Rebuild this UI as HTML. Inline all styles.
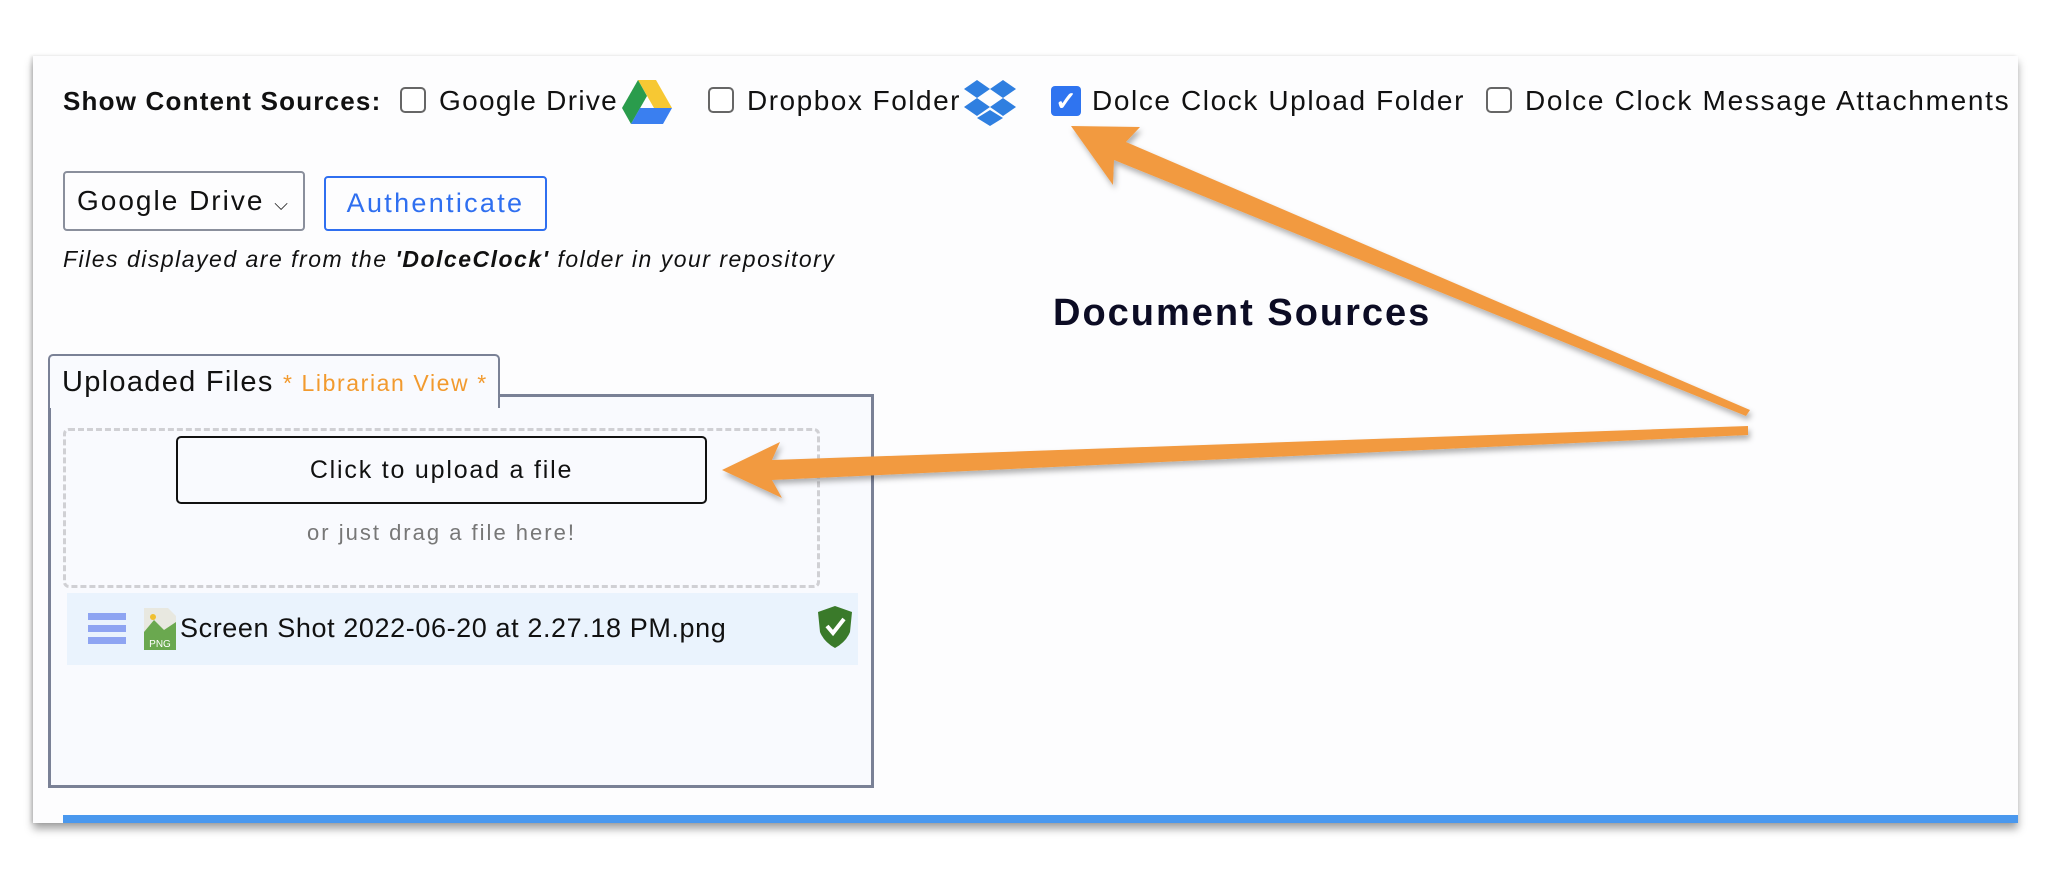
<!DOCTYPE html>
<html><head><meta charset="utf-8"><style>
body{margin:0;width:2048px;height:888px;background:#fff;position:relative;overflow:hidden;font-family:"Liberation Sans",sans-serif;color:#111;}
.a{position:absolute;white-space:nowrap}
.panel{position:absolute;left:33px;top:56px;width:1985px;height:767px;background:#fdfdfe;box-shadow:0 6px 8px rgba(0,0,0,.35),-2px 0 3px rgba(0,0,0,.12);}
.cb{position:absolute;width:26px;height:26px;border:2px solid #666;border-radius:5px;background:#fff;box-sizing:border-box}
.lbl{font-size:28px;top:85px;line-height:32px}
</style></head><body>
<div class="panel"></div>
<div class="a" style="left:63px;top:815px;width:1955px;height:8px;background:#4a98ee"></div>

<div class="a lbl" style="left:63px;font-weight:bold;font-size:26px;letter-spacing:1.2px">Show Content Sources:</div>
<div class="cb" style="left:400px;top:87px"></div>
<div class="a lbl" style="left:439px;letter-spacing:1.3px">Google Drive</div>
<svg class="a" style="left:622px;top:80px" width="50" height="46" viewBox="0 0 50 46"><polygon points="16,0 34,0 50,28 32,28" fill="#f7c833"/><polygon points="16,0 25,16 9,44 0,28" fill="#2a9c4c"/><polygon points="9,44 18,28 50,28 41,44" fill="#3a7ff0"/></svg>
<div class="cb" style="left:708px;top:87px"></div>
<div class="a lbl" style="left:747px;letter-spacing:1.5px">Dropbox Folder</div>
<svg class="a" style="left:964px;top:80px" width="52" height="46" viewBox="0 0 52 46"><g fill="#2f7fe0"><polygon points="13,0 26,9 13,18 0,9"/><polygon points="39,0 52,9 39,18 26,9"/><polygon points="13,18 26,27 13,36 0,27"/><polygon points="39,18 52,27 39,36 26,27"/><polygon points="26,30 39,38 26,46 13,38"/></g></svg>
<div class="a" style="left:1051px;top:86px;width:30px;height:30px;background:#2f74f0;border-radius:4px;color:#fff;font-size:26px;line-height:30px;text-align:center;font-weight:bold">✓</div>
<div class="a lbl" style="left:1092px;letter-spacing:1.6px">Dolce Clock Upload Folder</div>
<div class="cb" style="left:1486px;top:87px"></div>
<div class="a lbl" style="left:1525px;letter-spacing:1.7px">Dolce Clock Message Attachments</div>

<div class="a" style="left:63px;top:171px;width:242px;height:60px;border:2px solid #8a8f9c;border-radius:4px;box-sizing:border-box;font-size:28px;line-height:56px;padding-left:12px;letter-spacing:2px">Google Drive <span style="font-size:18px;letter-spacing:0">⌵</span></div>
<div class="a" style="left:324px;top:176px;width:223px;height:55px;border:2px solid #2f6ff0;border-radius:4px;box-sizing:border-box;font-size:27px;line-height:51px;text-align:center;color:#2f6ff0;letter-spacing:2.3px">Authenticate</div>
<div class="a" style="left:63px;top:246px;font-size:23px;font-style:italic;letter-spacing:1.5px">Files displayed are from the <b>'DolceClock'</b> folder in your repository</div>

<div class="a" style="left:1053px;top:292px;font-size:38px;font-weight:bold;color:#0c0c24;letter-spacing:2px">Document Sources</div>

<div class="a" style="left:48px;top:394px;width:826px;height:394px;border:3px solid #7a8196;box-sizing:border-box;background:#f9fafe"></div>
<div class="a" style="left:48px;top:354px;width:452px;height:54px;border:2px solid #7a8196;border-bottom:none;border-radius:5px 5px 0 0;box-sizing:border-box;background:#f9fafe;font-size:29px;line-height:52px;padding-left:12px;letter-spacing:1.3px">Uploaded Files <span style="color:#f29a2e;font-size:23px;letter-spacing:1.6px">* Librarian View *</span></div>
<div class="a" style="left:63px;top:428px;width:757px;height:160px;border:3px dashed #d0d0d4;border-radius:6px;box-sizing:border-box"></div>
<div class="a" style="left:176px;top:436px;width:531px;height:68px;border:2px solid #111;border-radius:5px;box-sizing:border-box;font-size:25px;line-height:64px;text-align:center;letter-spacing:1.8px">Click to upload a file</div>
<div class="a" style="left:63px;top:520px;width:757px;text-align:center;font-size:22px;color:#777;letter-spacing:2px">or just drag a file here!</div>
<div class="a" style="left:67px;top:593px;width:791px;height:72px;background:#eaf3fd"></div>
<div class="a" style="left:88px;top:613px;width:38px;height:7px;background:#8ea4f2;box-shadow:0 12px 0 #8ea4f2,0 24px 0 #8ea4f2"></div>
<svg class="a" style="left:144px;top:608px" width="32" height="42"><polygon points="0,0 24,0 32,8 32,42 0,42" fill="#e8e8e0"/><polygon points="0,24 10,12 20,22 32,14 32,42 0,42" fill="#6aa84f"/><circle cx="9" cy="9" r="3" fill="#f0c030"/><text x="16" y="39" font-size="10" fill="#fff" text-anchor="middle" font-family="Liberation Sans">PNG</text></svg>
<div class="a" style="left:180px;top:613px;font-size:27px;letter-spacing:0.6px">Screen Shot 2022-06-20 at 2.27.18 PM.png</div>
<svg class="a" style="left:818px;top:606px" width="34" height="42"><path d="M17,0 L34,6 L32,26 Q28,36 17,42 Q6,36 2,26 L0,6 Z" fill="#3a7a2a"/><path d="M9,20 L15,27 L26,13" stroke="#fff" stroke-width="4" fill="none"/></svg>

<svg class="a" style="left:0;top:0" width="2048" height="888">
<defs><filter id="s"><feDropShadow dx="2" dy="4" stdDeviation="3" flood-opacity="0.3"/></filter></defs>
<g fill="#f29a40" filter="url(#s)">
<polygon points="1071,126 1140,127 1126,142 1750,410 1746,416 1114,160 1113,185"/>
<polygon points="722,470 780,442 772,460 1748,426 1748,435 772,480 782,498"/>
</g></svg>
</body></html>
